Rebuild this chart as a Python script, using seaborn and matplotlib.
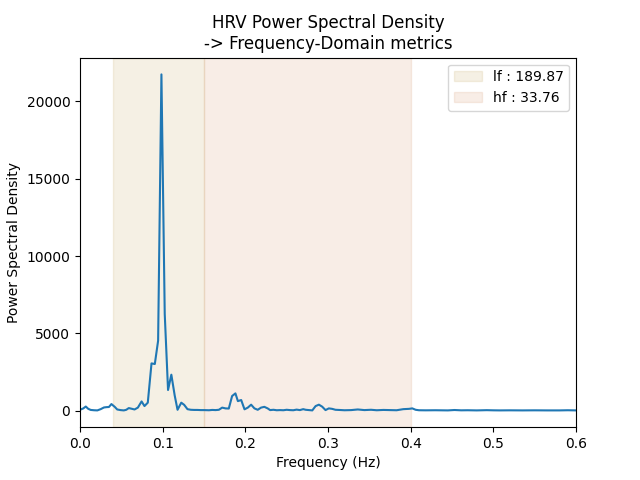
import matplotlib
matplotlib.use("Agg")
import matplotlib.pyplot as plt
import seaborn as sns
import pandas as pd

# Power spectral density (Hz, ms^2/Hz)
freqs = [0.000, 0.004, 0.007, 0.010, 0.013, 0.017, 0.021, 0.025, 0.029, 0.032,
         0.035, 0.038, 0.042, 0.045, 0.049, 0.053, 0.056, 0.059, 0.063, 0.066,
         0.070, 0.0745, 0.078, 0.082, 0.0865, 0.0905, 0.0945, 0.0985, 0.1025, 0.1065,
         0.1105, 0.1145, 0.118, 0.1225, 0.126, 0.130, 0.134, 0.138, 0.142, 0.146,
         0.150, 0.156, 0.160, 0.164, 0.168, 0.172, 0.176, 0.180, 0.184, 0.188,
         0.191, 0.195, 0.199, 0.203, 0.207, 0.211, 0.215, 0.219, 0.223, 0.227,
         0.230, 0.234, 0.238, 0.242, 0.246, 0.250, 0.254, 0.258, 0.262, 0.266,
         0.270, 0.273, 0.277, 0.281, 0.285, 0.289, 0.293, 0.297, 0.301, 0.305,
         0.309, 0.313, 0.320, 0.328, 0.336, 0.344, 0.352, 0.359, 0.367, 0.375,
         0.383, 0.391, 0.398, 0.402, 0.406, 0.410, 0.418, 0.430, 0.445, 0.453,
         0.461, 0.469, 0.480, 0.492, 0.500, 0.508, 0.520, 0.535, 0.550, 0.565,
         0.580, 0.590, 0.600, 0.610]
power = [60, 150, 270, 120, 50, 30, 20, 100, 210, 230,
         240, 430, 250, 80, 40, 20, 60, 170, 120, 80,
         200, 600, 300, 520, 3060, 3020, 4530, 21750, 6260, 1340,
         2330, 1000, 60, 520, 380, 100, 60, 50, 50, 40,
         40, 30, 50, 40, 60, 200, 150, 140, 950, 1120,
         620, 690, 90, 200, 390, 150, 60, 200, 250, 150,
         40, 60, 30, 40, 30, 60, 40, 30, 70, 40,
         100, 60, 40, 20, 300, 390, 260, 40, 150, 120,
         60, 50, 30, 40, 80, 40, 60, 30, 50, 40,
         30, 100, 120, 150, 60, 30, 25, 30, 20, 45,
         25, 30, 20, 35, 25, 20, 25, 20, 25, 20,
         20, 30, 20, 25]

band_names = ["lf", "hf"]
band_limits = [(0.04, 0.15), (0.15, 0.4)]
band_powers = [189.87, 33.76]
band_colors = ["#cdb478", "#dca582"]

df = pd.DataFrame({"Frequency": freqs, "Power": power})

fig, ax = plt.subplots(figsize=(6.4, 4.8), dpi=100)

for name, (lo, hi), pw, col in zip(band_names, band_limits, band_powers, band_colors):
    ax.axvspan(lo, hi, color=col, alpha=0.2, label=f"{name} : {pw}")

sns.lineplot(data=df, x="Frequency", y="Power", ax=ax, color="tab:blue")

ax.set_xlim(0, 0.6)
ax.set_title("HRV Power Spectral Density\n-> Frequency-Domain metrics")
ax.set_xlabel("Frequency (Hz)")
ax.set_ylabel("Power Spectral Density")
ax.legend(loc="upper right")

plt.savefig("out.png")
